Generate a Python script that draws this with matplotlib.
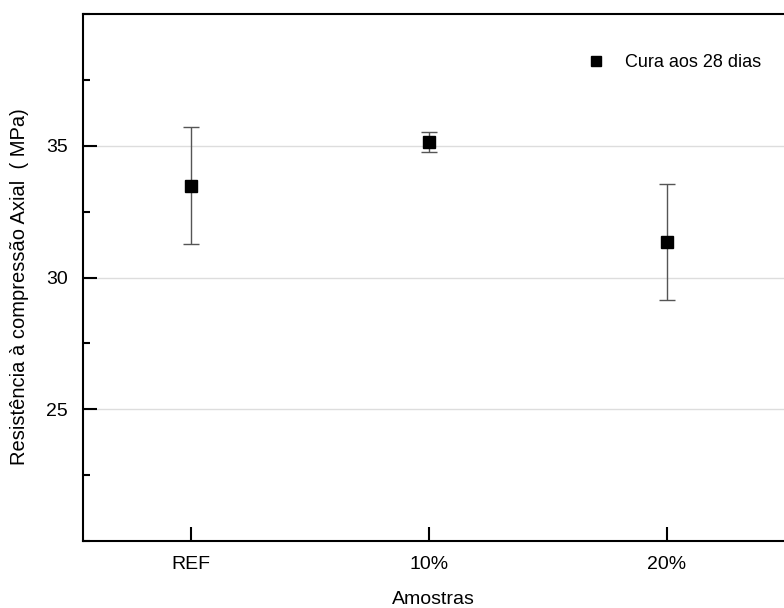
import numpy as np
import matplotlib.pyplot as plt
from matplotlib.ticker import MultipleLocator

plt.rcParams['font.family'] = ['Liberation Sans', 'DejaVu Sans']

amostras = ["REF", "10%", "20%"]
resistencia = [33.48, 35.15, 31.35]
desvio = [2.22, 0.38, 2.2]

fig = plt.figure(figsize=(7.84, 6.08), dpi=100)
ax = fig.add_axes([83 / 784, 67 / 608, 701 / 784, 527 / 608])

x = np.arange(len(amostras))
ax.errorbar(x, resistencia, yerr=desvio, fmt='none', ecolor='#555555',
            elinewidth=1.0, capsize=6, capthick=1.0, zorder=2)
ax.plot(x, resistencia, linestyle='none', marker='s', markersize=8,
        color='black', label="Cura aos 28 dias", zorder=3)

ax.set_xlim(-0.454, 2.492)
ax.set_ylim(20, 40)
ax.set_xticks(x)
ax.set_xticklabels(amostras)
ax.set_yticks([25, 30, 35])
ax.yaxis.set_minor_locator(MultipleLocator(2.5))
ax.grid(axis='y', which='major', color='#dddddd', linewidth=1.0, zorder=0)
ax.set_axisbelow(True)

ax.tick_params(axis='both', which='major', direction='in', length=10, width=1.5,
               labelsize=14, pad=11)
ax.tick_params(axis='y', which='minor', direction='in', length=5, width=1.5)
ax.spines['right'].set_visible(False)
for s in ['left', 'top', 'bottom']:
    ax.spines[s].set_linewidth(1.5)

ax.set_xlabel("Amostras", fontsize=14, labelpad=13)
ax.set_ylabel("Resistência à compressão Axial  ( MPa)", fontsize=14.5)
ax.yaxis.set_label_coords(-0.077, 0.482)

ax.legend(loc='upper right', bbox_to_anchor=(0.99, 0.955), frameon=False,
          fontsize=13, handletextpad=0.6, markerscale=0.9)

fig.savefig("out.png", dpi=100)
